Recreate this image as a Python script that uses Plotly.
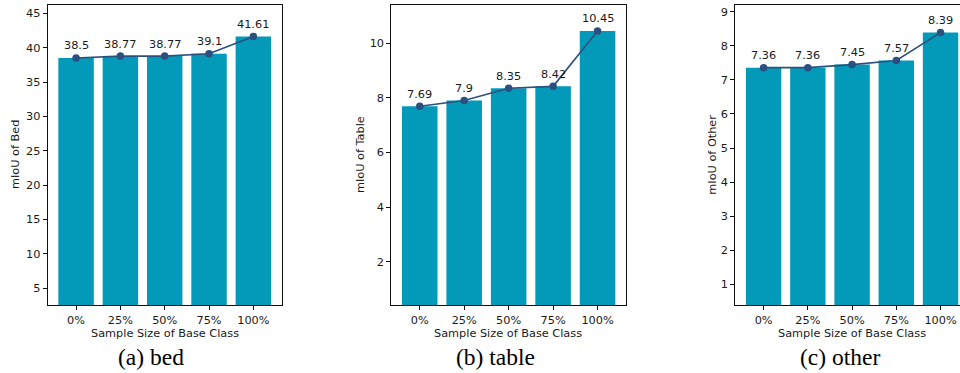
import plotly.graph_objects as go

categories = ["0%", "25%", "50%", "75%", "100%"]
bed_values = [38.5, 38.77, 38.77, 39.1, 41.61]
table_values = [7.69, 7.9, 8.35, 8.42, 10.45]
other_values = [7.36, 7.36, 7.45, 7.57, 8.39]
bed_ticks = [5, 10, 15, 20, 25, 30, 35, 40, 45]
table_ticks = [2, 4, 6, 8, 10]
other_ticks = [1, 2, 3, 4, 5, 6, 7, 8, 9]
y_titles = ["mIoU of Bed", "mIoU of Table", "mIoU of Other"]
captions = ["(a) bed", "(b) table", "(c) other"]
x_title = "Sample Size of Base Class"

W, H = 960, 373
BAR = "#039ab9"
LINE = "#2b5080"
TXT = "#1a1a1a"
FONT = "DejaVu Sans"

panels = [
    dict(vals=bed_values, ticks=bed_ticks, yr=[2.57, 46.2], xl=47.7, xr=281.7, xrange=[-0.64, 4.64], right=True),
    dict(vals=table_values, ticks=table_ticks, yr=[0.41, 11.40], xl=391.3, xr=626.0, xrange=[-0.64, 4.64], right=True),
    dict(vals=other_values, ticks=other_ticks, yr=[0.39, 9.2], xl=735.3, xr=960.0, xrange=[-0.64, 4.44], right=False),
]
full_width = 234.0
ytop, ybot = 5.0, 305.0
ydom = [1 - ybot / H, 1 - ytop / H]

fig = go.Figure()
annotations = []
layout = {}
ytitle_x = [15, 360, 711.7]
caption_x = [151, 495, 840]

for i, p in enumerate(panels):
    n = "" if i == 0 else str(i + 1)
    xa, ya = "x" + n, "y" + n
    fig.add_trace(go.Bar(x=categories, y=p["vals"], marker=dict(color=BAR, line=dict(width=0)),
                         width=0.8, xaxis=xa, yaxis=ya, showlegend=False))
    fig.add_trace(go.Scatter(x=categories, y=p["vals"], mode="lines+markers",
                             line=dict(color=LINE, width=1.6),
                             marker=dict(color=LINE, size=7.5),
                             xaxis=xa, yaxis=ya, showlegend=False, cliponaxis=False))
    for c, v in zip(categories, p["vals"]):
        annotations.append(dict(x=c, y=v, xref=xa, yref=ya, text=f"{v:g}", showarrow=False,
                                yshift=12, yanchor="middle", xanchor="center",
                                font=dict(family=FONT, size=11.3, color=TXT)))
    axis_common = dict(showline=True, linecolor="#111", linewidth=1, ticks="outside",
                       ticklen=4, tickwidth=1, tickcolor="#111", showgrid=False, zeroline=False,
                       tickfont=dict(family=FONT, size=11.3, color=TXT))
    layout["xaxis" + n] = dict(domain=[p["xl"] / W, p["xr"] / W], anchor=ya, type="category",
                               range=p["xrange"], mirror=True, **axis_common)
    layout["yaxis" + n] = dict(domain=ydom, anchor=xa, range=p["yr"], tickvals=p["ticks"],
                               mirror=p["right"], **axis_common)
    annotations.append(dict(x=(p["xl"] + full_width / 2) / W, y=1 - 333 / H, xref="paper", yref="paper",
                            text=x_title, showarrow=False, xanchor="center", yanchor="middle",
                            font=dict(family=FONT, size=11.3, color=TXT)))
    annotations.append(dict(x=ytitle_x[i] / W, y=1 - 155 / H, xref="paper", yref="paper",
                            text=y_titles[i], showarrow=False, textangle=-90,
                            xanchor="center", yanchor="middle",
                            font=dict(family=FONT, size=11.3, color=TXT)))
    annotations.append(dict(x=caption_x[i] / W, y=1 - 357 / H, xref="paper", yref="paper",
                            text=captions[i], showarrow=False, xanchor="center", yanchor="middle",
                            font=dict(family="Liberation Serif", size=23.5, color="#000")))

fig.update_layout(width=W, height=H, margin=dict(l=0, r=0, t=0, b=0),
                  plot_bgcolor="white", paper_bgcolor="white", bargap=0.2,
                  annotations=annotations, **layout)
fig.write_html("out.html", config={"displayModeBar": False},
               post_script="document.body.style.margin='0';document.body.style.overflow='hidden';")
